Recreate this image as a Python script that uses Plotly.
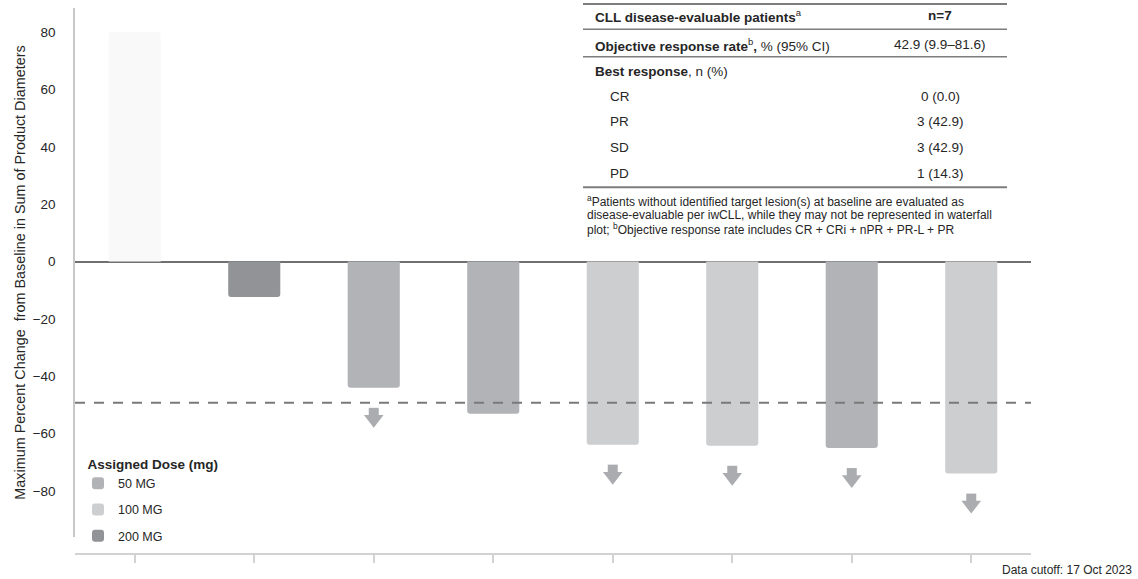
import plotly.graph_objects as go

# ---------------- data ----------------
patients = ["Pt 1", "Pt 2", "Pt 3", "Pt 4", "Pt 5", "Pt 6", "Pt 7", "Pt 8"]
pct_change = [80.0, -12.3, -44.0, -53.0, -63.8, -64.2, -65.0, -73.9]
dose = ["Other", "200 MG", "50 MG", "50 MG", "100 MG", "100 MG", "50 MG", "100 MG"]
ongoing = [False, False, True, False, True, True, True, True]
dose_levels = ["50 MG", "100 MG", "200 MG", "Other"]
dose_colors = {"50 MG": "#b2b3b6", "100 MG": "#cdced0", "200 MG": "#929396", "Other": "#f9f9f9"}
pr_threshold = -49.2
y_ticks = [-80, -60, -40, -20, 0, 20, 40, 60, 80]

tbl_labels = ["<b>CLL disease-evaluable patients</b><sup>a</sup>",
              "<b>Objective response rate</b><sup>b</sup><b>,</b> % (95% CI)",
              "<b>Best response</b>, n (%)",
              "CR", "PR", "SD", "PD"]
tbl_values = ["<b>n=7</b>", "42.9 (9.9–81.6)", "", "0 (0.0)", "3 (42.9)", "3 (42.9)", "1 (14.3)"]
footnote_lines = ["<sup>a</sup>Patients without identified target lesion(s) at baseline are evaluated as",
                  "disease-evaluable per iwCLL, while they may not be represented in waterfall",
                  "plot; <sup>b</sup>Objective response rate includes CR + CRi + nPR + PR-L + PR"]
cutoff_text = "Data cutoff: 17 Oct 2023"
y_title = "Maximum Percent Change  from Baseline in Sum of Product Diameters"
legend_title = "Assigned Dose (mg)"

# ---------------- layout geometry ----------------
W, H = 1138, 579
L, R, T, B = 75, 107, 8, 25
PW, PH = W - L - R, H - T - B
Y_RANGE = [-96.0, 88.4]
Y_AXIS_BOTTOM_PX = 537
FONT = "Liberation Sans, Arial, sans-serif"
TXT = "#262626"
ARROW_COLOR = "#abacaf"


def xp(px):
    return (px - L) / PW


def yp(py):
    return (H - B - py) / PH


px_per_unit = (Y_AXIS_BOTTOM_PX - T) / (Y_RANGE[1] - Y_RANGE[0])
STEM_SIZE, HEAD_SIZE = 10, 17
stem_off = 25 / px_per_unit          # stem centre 25 px below bar end
head_off = (40 - HEAD_SIZE / 2) / px_per_unit  # arrow tip 40 px below bar end

fig = go.Figure()

idx = list(range(len(patients)))
for lvl in dose_levels:
    sel = [i for i in idx if dose[i] == lvl]
    fig.add_trace(go.Bar(
        x=sel, y=[pct_change[i] for i in sel],
        customdata=[patients[i] for i in sel],
        name=lvl, legendgroup=lvl, showlegend=(lvl != "Other"),
        textposition="none",
        width=0.436, marker=dict(color=dose_colors[lvl], line=dict(width=0), cornerradius=3),
    ))

# ongoing-response arrows under bars (stem + head)
arr_x = [i for i in idx if ongoing[i]]
fig.add_trace(go.Scatter(x=arr_x, y=[pct_change[i] - stem_off for i in arr_x], mode="markers",
                         marker=dict(symbol="square", size=STEM_SIZE, color=ARROW_COLOR, line=dict(width=0)),
                         showlegend=False, hoverinfo="skip"))
fig.add_trace(go.Scatter(x=arr_x, y=[pct_change[i] - head_off for i in arr_x], mode="markers",
                         marker=dict(symbol="triangle-down", size=HEAD_SIZE, color=ARROW_COLOR, line=dict(width=0)),
                         showlegend=False, hoverinfo="skip"))

# PR threshold dashed line
fig.add_shape(type="line", xref="paper", yref="y", x0=0, x1=1, y0=pr_threshold, y1=pr_threshold,
              line=dict(color="#7a7a7a", width=2, dash="10px,9px"), layer="above")

# ---------------- table ----------------
row_y = [16, 45, 71.7, 96.7, 121.5, 147, 173.3]
indent = [593, 593, 593, 608, 608, 608, 608]
for lab, val, ry, ix in zip(tbl_labels, tbl_values, row_y, indent):
    fig.add_annotation(x=xp(ix), y=yp(ry), xref="paper", yref="paper", text=lab, showarrow=False,
                       xanchor="left", yanchor="middle", font=dict(size=13.5, color=TXT, family=FONT))
    if val:
        fig.add_annotation(x=xp(940), y=yp(ry), xref="paper", yref="paper", text=val, showarrow=False,
                           xanchor="center", yanchor="middle", font=dict(size=13.5, color=TXT, family=FONT))
for ly, lw in [(4, 2), (29.3, 1.5), (56.7, 1.5), (187.3, 2)]:
    fig.add_shape(type="line", xref="paper", yref="paper", x0=xp(583), x1=xp(1007), y0=yp(ly), y1=yp(ly),
                  line=dict(color="#7d7d7d", width=lw))
for line_txt, fy in zip(footnote_lines, [201, 215, 229.3]):
    fig.add_annotation(x=xp(585), y=yp(fy), xref="paper", yref="paper", text=line_txt, showarrow=False,
                       xanchor="left", yanchor="middle", font=dict(size=12, color=TXT, family=FONT))

fig.add_annotation(x=xp(1134), y=yp(570.5), xref="paper", yref="paper", text=cutoff_text, showarrow=False,
                   xanchor="right", yanchor="middle", font=dict(size=12, color=TXT, family=FONT))

fig.update_layout(
    width=W, height=H, margin=dict(l=L, r=R, t=T, b=B, pad=0),
    paper_bgcolor="white", plot_bgcolor="white",
    font=dict(family=FONT, color=TXT),
    barmode="overlay",
    showlegend=True,
    legend=dict(x=xp(78), y=yp(451), xanchor="left", yanchor="top", bgcolor="rgba(0,0,0,0)",
                title=dict(text="\u00a0\u00a0<b>" + legend_title + "</b>", font=dict(size=13.5, color=TXT)),
                font=dict(size=12.5, color=TXT), tracegroupgap=7, traceorder="grouped"),
    xaxis=dict(range=[-0.5, 7.5], tickmode="array", tickvals=[], showticklabels=False, ticks="",
               minor=dict(tickmode="array", tickvals=idx, ticks="outside", ticklen=8, tickwidth=1.5,
                          tickcolor="#d2d2d2", showgrid=False),
               showline=True, linecolor="#d2d2d2", linewidth=1.5,
               showgrid=False, zeroline=False, anchor="free", position=0),
    yaxis=dict(domain=[yp(Y_AXIS_BOTTOM_PX), 1], range=Y_RANGE, tickvals=y_ticks, showgrid=False,
               showline=True, linecolor="#c8c8c8", linewidth=1.5, ticks="",
               zeroline=True, zerolinecolor="#707070", zerolinewidth=1.5,
               tickfont=dict(size=13.5, color=TXT), ticklabelstandoff=15,
               title=dict(text=y_title, font=dict(size=14.4, color=TXT), standoff=4)),
)

fig.write_html("out.html", config={"displayModeBar": False},
               post_script="document.body.style.margin='0';document.body.style.overflow='hidden';")
